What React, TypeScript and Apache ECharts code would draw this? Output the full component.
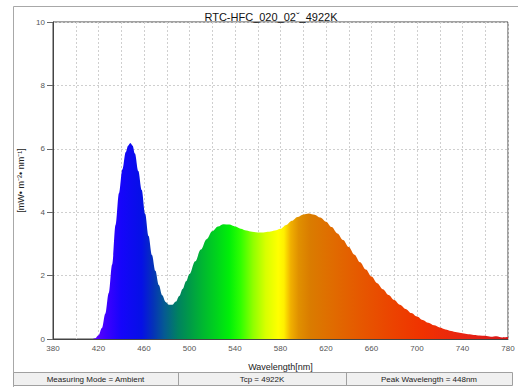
import React, { useEffect, useRef } from "react";
import * as echarts from "echarts";

const titleText = "RTC-HFC_020_02ˇ_4922K";
const yAxisName = "[mW• m⁻²• nm⁻¹]";
const xAxisName = "Wavelength[nm]";
const statusTexts = ["Measuring Mode = Ambient", "Tcp = 4922K", "Peak Wavelength = 448nm"];

const wavelengths = [
  380, 390, 400, 410, 415, 417, 420, 423, 426, 429, 432, 435, 438, 441, 444, 446, 448, 450, 452, 455,
  458, 461, 464, 467, 470, 473, 476, 479, 482, 485, 488, 491, 494, 497, 500, 505, 510, 515, 520, 525,
  530, 535, 540, 545, 550, 555, 560, 565, 570, 575, 580, 585, 590, 595, 600, 605, 610, 615, 620, 625,
  630, 635, 640, 645, 650, 655, 660, 665, 670, 675, 680, 685, 690, 695, 700, 705, 710, 715, 720, 725,
  730, 735, 740, 745, 750, 755, 760, 765, 770, 775, 780,
];
const irradiance = [
  0, 0, 0, 0, 0, 0.02, 0.12, 0.35, 0.8, 1.45, 2.35, 3.6, 4.6, 5.35, 5.9, 6.1, 6.18, 6.1, 5.85, 5.3,
  4.7, 3.95, 3.25, 2.65, 2.15, 1.7, 1.38, 1.17, 1.08, 1.08, 1.18, 1.36, 1.58, 1.82, 2.05, 2.45, 2.82, 3.15, 3.4, 3.55,
  3.62, 3.61, 3.55, 3.48, 3.42, 3.38, 3.36, 3.36, 3.38, 3.42, 3.48, 3.6, 3.73, 3.85, 3.93, 3.96, 3.92, 3.83, 3.7, 3.53,
  3.33, 3.12, 2.9, 2.66, 2.42, 2.19, 1.97, 1.76, 1.57, 1.39, 1.23, 1.08, 0.95, 0.82, 0.71, 0.6, 0.51, 0.43, 0.36, 0.3,
  0.25, 0.21, 0.18, 0.15, 0.13, 0.11, 0.1, 0.07, 0.09, 0.05, 0.06,
];

const X_MIN = 380;
const X_MAX = 780;

const colorStops: [number, string][] = [
  [380, "#6000ff"],
  [418, "#5a00ff"],
  [428, "#3a00ff"],
  [440, "#1505fa"],
  [458, "#0510e6"],
  [468, "#0532b8"],
  [478, "#055a92"],
  [490, "#008260"],
  [500, "#009a48"],
  [512, "#00b830"],
  [524, "#00d41c"],
  [535, "#00f008"],
  [545, "#30ff00"],
  [556, "#90ff00"],
  [567, "#d8ff00"],
  [578, "#ffff00"],
  [583, "#fff000"],
  [589, "#f0b000"],
  [596, "#e09000"],
  [606, "#da7c00"],
  [625, "#e06c00"],
  [650, "#e65800"],
  [680, "#ec4200"],
  [705, "#f03200"],
  [740, "#e82412"],
  [780, "#d81818"],
];

export default function App() {
  const ref = useRef<HTMLDivElement>(null);
  useEffect(() => {
    document.body.style.margin = "0";
    const chart = echarts.init(ref.current!, null, { renderer: "svg" });
    const font = "'Liberation Sans', Arial, sans-serif";
    const data = wavelengths.map((w, i) => [w, irradiance[i]]);
    const gradient = new echarts.graphic.LinearGradient(
      0, 0, 1, 0,
      colorStops.map(([w, c]) => ({ offset: (w - X_MIN) / (X_MAX - X_MIN), color: c })),
      false
    );
    const cellBounds = [13, 178, 346, 512];
    const graphics: any[] = [
      { type: "line", shape: { x1: 13.5, y1: 6.5, x2: 518, y2: 6.5 }, style: { stroke: "#a8a8a8", lineWidth: 1 } },
      { type: "line", shape: { x1: 13.5, y1: 6.5, x2: 13.5, y2: 387 }, style: { stroke: "#a8a8a8", lineWidth: 1 } },
      { type: "rect", shape: { x: 13.5, y: 372.5, width: 499, height: 13 }, style: { fill: "#f0f0f0", stroke: "#a0a0a0", lineWidth: 1 } },
    ];
    statusTexts.forEach((t, i) => {
      const x0 = cellBounds[i];
      const x1 = cellBounds[i + 1];
      if (i > 0) {
        graphics.push({ type: "line", shape: { x1: x0 + 0.5, y1: 373, x2: x0 + 0.5, y2: 385 }, style: { stroke: "#a0a0a0", lineWidth: 1 } });
      }
      graphics.push({
        type: "text",
        x: (x0 + x1) / 2,
        y: 379,
        style: { text: t, fontSize: 8, fontFamily: font, fill: "#222", align: "center", verticalAlign: "middle" },
      });
    });
    chart.setOption({
      animation: false,
      backgroundColor: "#ffffff",
      title: {
        text: titleText,
        left: 266,
        top: 6,
        textAlign: "center",
        textStyle: { fontSize: 11, fontWeight: "normal", color: "#111", fontFamily: font },
      },
      grid: { left: 53, right: 10, top: 22, bottom: 48, show: true, borderColor: "#444", borderWidth: 1, containLabel: false },
      xAxis: {
        type: "value",
        min: X_MIN,
        max: X_MAX,
        interval: 20,
        name: xAxisName,
        nameLocation: "middle",
        nameGap: 23,
        nameTextStyle: { fontSize: 9, color: "#222", fontFamily: font },
        axisLine: { show: true, lineStyle: { color: "#444" } },
        axisTick: { show: false },
        axisLabel: {
          fontSize: 8,
          color: "#555",
          fontFamily: font,
          margin: 5,
          formatter: (v: number) => ((v - X_MIN) % 40 === 0 ? String(v) : ""),
        },
        splitLine: { show: true, lineStyle: { color: "#cfcfcf", type: [2, 2], width: 1 } },
      },
      yAxis: {
        type: "value",
        min: 0,
        max: 10,
        interval: 2,
        name: yAxisName,
        nameLocation: "middle",
        nameGap: 25,
        nameRotate: 90,
        nameTextStyle: { fontSize: 9, color: "#222", fontFamily: font },
        axisLine: { show: true, lineStyle: { color: "#444" } },
        axisTick: { show: true, length: 6, lineStyle: { color: "#666" } },
        axisLabel: { fontSize: 8, color: "#555", fontFamily: font, margin: 8 },
        splitLine: { show: true, lineStyle: { color: "#cfcfcf", type: [2, 2], width: 1 } },
      },
      series: [
        {
          type: "line",
          data,
          smooth: 0.35,
          smoothMonotone: "x",
          showSymbol: false,
          silent: true,
          lineStyle: { width: 0, opacity: 0 },
          areaStyle: { color: gradient, opacity: 1 },
          z: 3,
        },
      ],
      graphic: graphics,
    });
    return () => chart.dispose();
  }, []);
  return <div ref={ref} style={{ position: "fixed", left: 0, top: 0, width: 518, height: 387 }} />;
}
